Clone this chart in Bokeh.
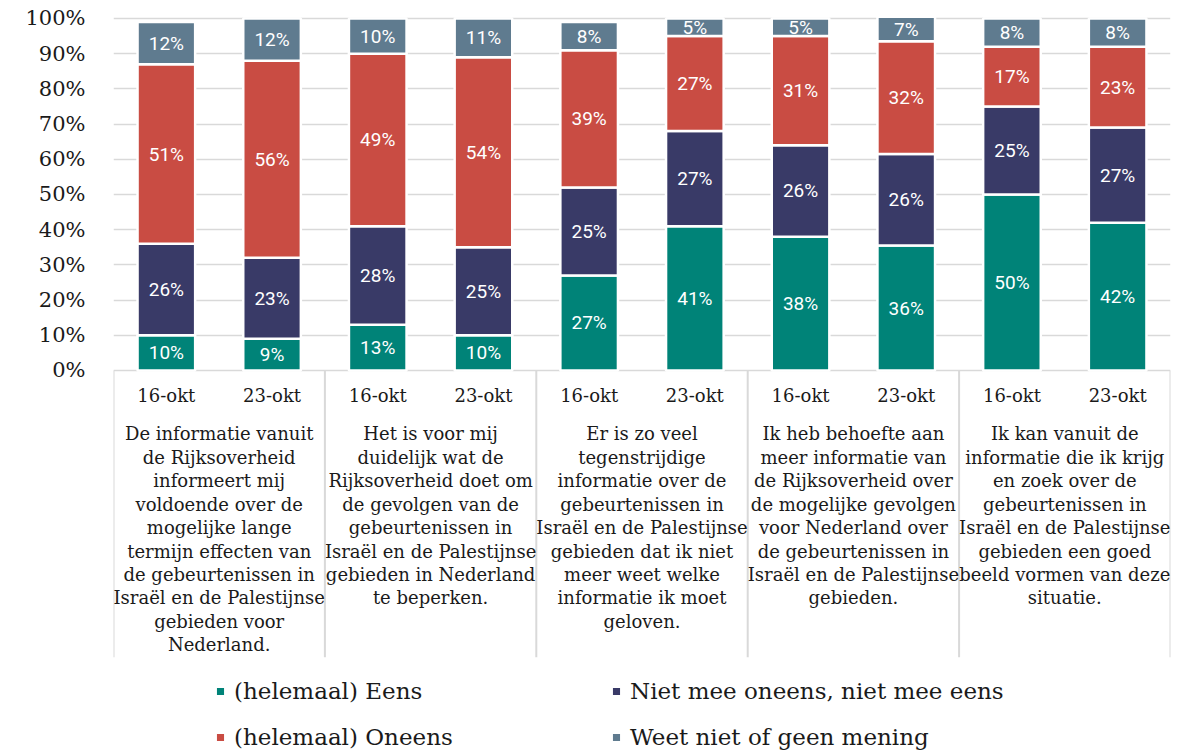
from bokeh.plotting import figure
from bokeh.models import FactorRange, ColumnDataSource, FixedTicker, Legend, LegendItem, Range1d
from bokeh.core.properties import value
from bokeh.embed import file_html
from bokeh.resources import INLINE
import numpy as np

# ---------------- data ----------------
groups = ["S1", "S2", "S3", "S4", "S5"]
statements = [
    "De informatie vanuit\nde Rijksoverheid\ninformeert mij\nvoldoende over de\nmogelijke lange\ntermijn effecten van\nde gebeurtenissen in\nIsraël en de Palestijnse\ngebieden voor\nNederland.",
    "Het is voor mij\nduidelijk wat de\nRijksoverheid doet om\nde gevolgen van de\ngebeurtenissen in\nIsraël en de Palestijnse\ngebieden in Nederland\nte beperken.",
    "Er is zo veel\ntegenstrijdige\ninformatie over de\ngebeurtenissen in\nIsraël en de Palestijnse\ngebieden dat ik niet\nmeer weet welke\ninformatie ik moet\ngeloven.",
    "Ik heb behoefte aan\nmeer informatie van\nde Rijksoverheid over\nde mogelijke gevolgen\nvoor Nederland over\nde gebeurtenissen in\nIsraël en de Palestijnse\ngebieden.",
    "Ik kan vanuit de\ninformatie die ik krijg\nen zoek over de\ngebeurtenissen in\nIsraël en de Palestijnse\ngebieden een goed\nbeeld vormen van deze\nsituatie.",
]
dates = ["16-okt", "23-okt"]

eens      = [10, 9, 13, 10, 27, 41, 38, 35.5, 50, 42]
neutraal  = [26, 23, 28, 25, 25, 27, 26, 26, 25, 27]
oneens    = [51, 56, 49, 54, 39, 27, 31, 32, 17, 23]
weet_niet = [12, 12, 10, 11, 8, 5, 5, 7, 8, 8]

series_names = ["(helemaal) Eens", "Niet mee oneens, niet mee eens",
                "(helemaal) Oneens", "Weet niet of geen mening"]
series_values = [eens, neutraal, oneens, weet_niet]
series_colors = ["#008378", "#393a67", "#c94c43", "#5f7b8f"]

ytick_values = list(range(0, 101, 10))
ytick_labels = [f"{t}%" for t in ytick_values]

# ---------------- layout constants ----------------
Y_TOP = 101.7
Y_BOTTOM = -108.53
SUB_Y = -7.1
GROUP_Y = -15.0
SEP_BOTTOM = -81.5
SERIF = "DejaVu Serif"
TEXT_COLOR = "#1a1a1a"
GRID_COLOR = "#d9d9d9"

x_factors = [(g, d) for g in groups for d in dates]

p = figure(
    x_range=FactorRange(factors=x_factors, range_padding=0, group_padding=0,
                        factor_padding=0, subgroup_padding=0),
    y_range=Range1d(Y_BOTTOM, Y_TOP),
    width=1180, height=752,
    output_backend="svg", toolbar_location=None, x_axis_location=None,
    min_border_left=113, min_border_right=10, min_border_top=12, min_border_bottom=0,
)
p.outline_line_color = None
p.background_fill_color = "white"
p.xgrid.visible = False
p.ygrid.ticker = FixedTicker(ticks=ytick_values)
p.ygrid.grid_line_color = GRID_COLOR
p.ygrid.grid_line_width = 1.5

p.yaxis.ticker = FixedTicker(ticks=ytick_values)
p.yaxis.major_label_overrides = {t: lab for t, lab in zip(ytick_values, ytick_labels)}
p.yaxis.axis_line_color = None
p.yaxis.major_tick_line_color = None
p.yaxis.minor_tick_line_color = None
p.yaxis.major_label_standoff = 22
p.yaxis.major_label_text_font = SERIF
p.yaxis.major_label_text_font_size = "21px"
p.yaxis.major_label_text_color = TEXT_COLOR

# ---------------- category separators ----------------
sep_x = [(g, dates[0], -0.5) for g in groups] + [(groups[-1], dates[-1], 0.5)]
p.segment(x0=sep_x, y0=[0] * len(sep_x), x1=sep_x, y1=[SEP_BOTTOM] * len(sep_x),
          line_color=GRID_COLOR, line_width=2)

# ---------------- stacked bars ----------------
bottom = np.zeros(len(x_factors))
renderers = []
label_x, label_y, label_t = [], [], []
for name, vals, col in zip(series_names, series_values, series_colors):
    vals = np.array(vals, dtype=float)
    top = bottom + vals
    src = ColumnDataSource(dict(x=x_factors, bottom=bottom.copy(), top=top.copy()))
    r = p.vbar(x="x", bottom="bottom", top="top", width=0.545, source=src,
               fill_color=col, line_color="white", line_width=2.5)
    renderers.append(r)
    for xf, b, t, v in zip(x_factors, bottom, top, vals):
        label_x.append(xf)
        label_y.append((b + t) / 2)
        label_t.append(f"{v:.0f}%")
    bottom = top

p.text(x=label_x, y=label_y, text=label_t, text_color="white",
       text_font=value("Roboto"), text_font_size="19px",
       text_align="center", text_baseline="middle")

# ---------------- category labels ----------------
p.text(x=x_factors, y=[SUB_Y] * len(x_factors), text=[d for g, d in x_factors],
       text_color=TEXT_COLOR, text_font=value(SERIF), text_font_size="18px",
       text_align="center", text_baseline="middle")
p.text(x=groups, y=[GROUP_Y] * len(groups), text=statements,
       text_color=TEXT_COLOR, text_font=value(SERIF), text_font_size="18px",
       text_align="center", text_baseline="top", text_line_height=1.117)

# ---------------- legend ----------------
legend = Legend(
    items=[LegendItem(label=n, renderers=[r]) for n, r in zip(series_names, renderers)],
    location=(101, 2), orientation="horizontal", ncols=2,
    padding=0, margin=0, spacing=20, label_width=356, label_standoff=8,
    glyph_width=12, glyph_height=12,
    label_text_font=SERIF, label_text_font_size="23px", label_text_color=TEXT_COLOR,
    border_line_color=None, background_fill_alpha=0,
)
p.add_layout(legend)

open("out.html", "w").write(file_html(p, INLINE))
